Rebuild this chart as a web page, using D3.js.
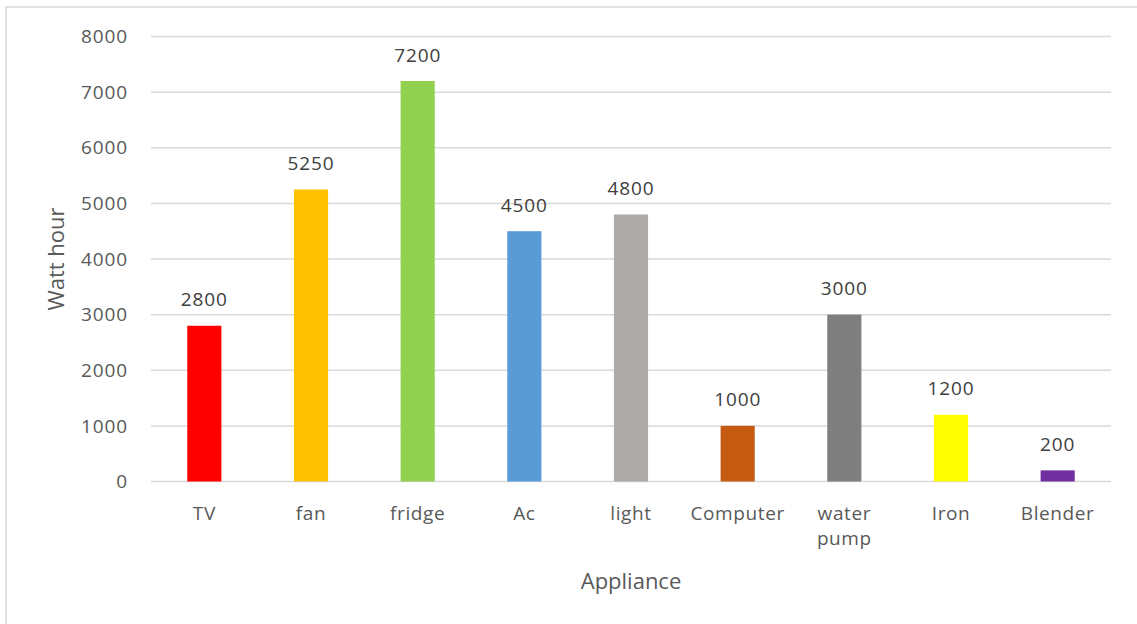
<!DOCTYPE html>
<html>
<head>
<meta charset="utf-8">
<script src="https://cdn.jsdelivr.net/npm/d3@7"></script>
<style>
  body { margin: 0; background: #fff; }
  svg { display: block; font-family: "Open Sans", "Liberation Sans", sans-serif; }
</style>
</head>
<body>
<div id="chart"></div>
<script>
// appliance data
var appliances = ["TV", "fan", "fridge", "Ac", "light", "Computer", "water pump", "Iron", "Blender"];
var wattHours = [2800, 5250, 7200, 4500, 4800, 1000, 3000, 1200, 200];
var barColors = ["#FF0000", "#FFC000", "#92D050", "#5B9BD5", "#AEAAAA", "#C55A11", "#7F7F7F", "#FFFF00", "#7030A0"];
var yTicks = [0, 1000, 2000, 3000, 4000, 5000, 6000, 7000, 8000];

var W = 1137, H = 624;
var svg = d3.select("#chart").append("svg").attr("width", W).attr("height", H);

// chart frame (only top and left edges are visible in the picture)
svg.append("rect")
    .attr("x", 6).attr("y", 7)
    .attr("width", W + 20).attr("height", H + 20)
    .style("fill", "none").style("stroke", "#D9D9D9").style("stroke-width", 1.5);

var x = d3.scaleBand().domain(appliances).range([151, 1111]).paddingInner(0.68).paddingOuter(0.34);
var y = d3.scaleLinear().domain([0, 8000]).range([481.5, 36.5]);

// gridlines
svg.append("g").selectAll("line").data(yTicks).enter().append("line")
    .attr("x1", 151).attr("x2", 1111)
    .attr("y1", function(d){ return y(d); }).attr("y2", function(d){ return y(d); })
    .style("stroke", "#D9D9D9").style("stroke-width", 1.5);

// y tick labels
svg.append("g").selectAll("text").data(yTicks).enter().append("text")
    .attr("x", 128).attr("y", function(d){ return y(d); })
    .attr("dy", "0.35em")
    .attr("text-anchor", "end")
    .style("font-size", "19px").style("letter-spacing", "0.9px")
    .style("fill", "#595959")
    .text(function(d){ return d; });

// bars
svg.append("g").selectAll("rect").data(appliances).enter().append("rect")
    .attr("x", function(d){ return x(d); })
    .attr("width", x.bandwidth())
    .attr("y", function(d, i){ return y(wattHours[i]); })
    .attr("height", function(d, i){ return y(0) - y(wattHours[i]); })
    .style("fill", function(d, i){ return barColors[i]; });

// data labels
svg.append("g").selectAll("text").data(appliances).enter().append("text")
    .attr("x", function(d){ return x(d) + x.bandwidth()/2; })
    .attr("y", function(d, i){ return y(wattHours[i]) - 19.5; })
    .attr("text-anchor", "middle")
    .style("font-size", "19px").style("letter-spacing", "0.9px")
    .style("fill", "#404040")
    .text(function(d, i){ return wattHours[i]; });

// category labels, wrapped on spaces
var cat = svg.append("g").selectAll("text").data(appliances).enter().append("text")
    .attr("x", function(d){ return x(d) + x.bandwidth()/2; })
    .attr("y", y(0) + 38.5)
    .attr("text-anchor", "middle")
    .style("font-size", "19px").style("letter-spacing", "0.6px")
    .style("fill", "#595959");
cat.each(function(d){
    var el = d3.select(this);
    var words = d === "Computer" || d.indexOf(" ") < 0 ? [d] : d.split(" ");
    words.forEach(function(w, k){
        el.append("tspan")
            .attr("x", el.attr("x"))
            .attr("dy", k === 0 ? 0 : 25)
            .text(w);
    });
});

// axis titles
svg.append("text")
    .attr("transform", "translate(64,259) rotate(-90)")
    .attr("text-anchor", "middle")
    .style("font-size", "22px").style("fill", "#595959")
    .text("Watt hour");

svg.append("text")
    .attr("x", 631).attr("y", 589)
    .attr("text-anchor", "middle")
    .style("font-size", "22px").style("fill", "#595959")
    .text("Appliance");
</script>
</body>
</html>
